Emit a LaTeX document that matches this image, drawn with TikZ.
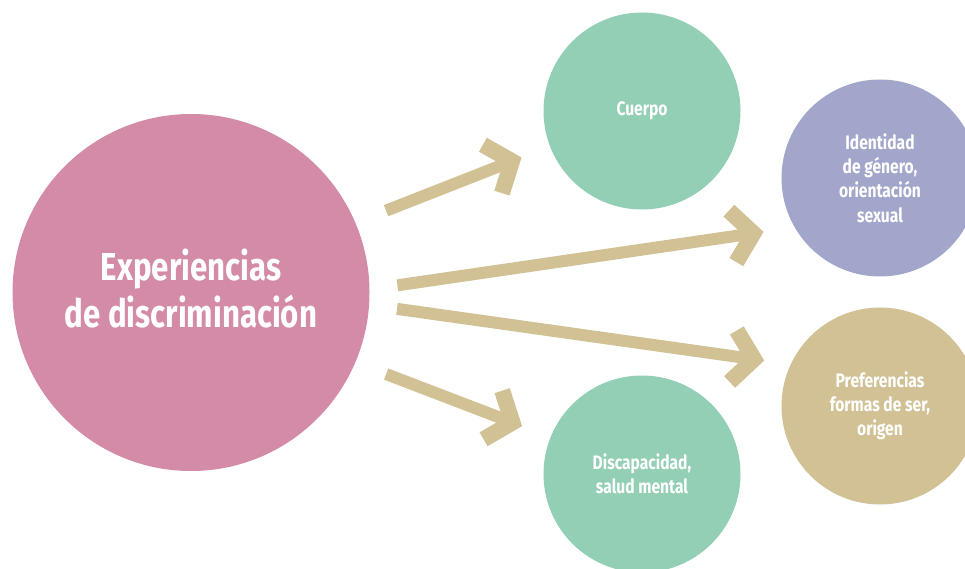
\documentclass[tikz,border=0pt]{standalone}
\usepackage{fontspec}
\setmainfont{Fira Sans}[FakeStretch=0.8]
\usepackage{tikz}
\usetikzlibrary{arrows.meta}

\definecolor{rosa}{HTML}{D38BA8}
\definecolor{verde}{HTML}{92CFB4}
\definecolor{lila}{HTML}{A2A6CA}
\definecolor{arena}{HTML}{D1C195}

\begin{document}
\begin{tikzpicture}[x=1bp, y=-1bp,
    bubble/.style={circle, inner sep=0pt, align=center, text=white,
                   minimum size=197bp,
                   font=\fontsize{19.5bp}{24.2bp}\selectfont\bfseries},
    hub/.style={bubble, fill=rosa, minimum size=357bp, text depth=8bp,
                font=\fontsize{39bp}{47.3bp}\selectfont\bfseries},
    arr/.style={-{Straight Barb[length=21bp, width=52bp, line width=16bp]},
                line width=12bp, draw=arena}]
  \useasboundingbox (0,0) rectangle (965,569);
  \node[hub] (exp) at (191,292.5) {Experiencias\\ de discriminación};
  \node[bubble, fill=verde] (cuerpo) at (642,111) {Cuerpo};
  \node[bubble, fill=lila] (ident) at (880,178) {Identidad\\ de género,\\ orientación\\ sexual};
  \node[bubble, fill=arena] (pref) at (880,406) {Preferencias\\ formas de ser,\\ origen};
  \node[bubble, fill=verde] (disc) at (642,474) {Discapacidad,\\ salud mental};
  % flechas hacia cada ámbito
  \draw[arr, shorten <=32.8bp, shorten >=30.4bp] (exp.23.8) -- (cuerpo.201.7);
  \draw[arr, shorten <=28bp, shorten >=31.3bp] (exp.1.6) -- (ident.210.3);
  \draw[arr, shorten <=28bp, shorten >=26.6bp] (exp.-4) -- (pref.155.9);
  \draw[arr, shorten <=32.8bp, shorten >=30.4bp] (exp.-23.8) -- (disc.158.3);
\end{tikzpicture}
\end{document}
